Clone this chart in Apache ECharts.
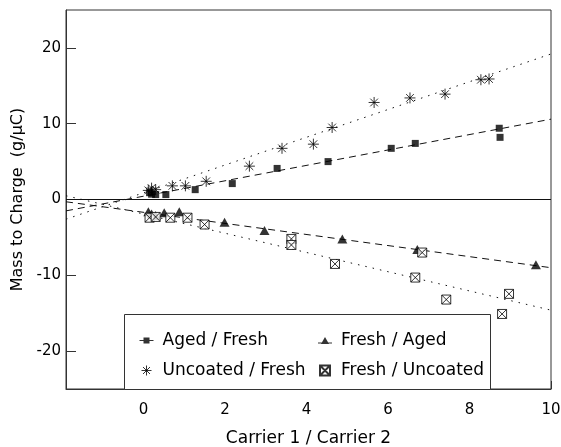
<!DOCTYPE html>
<html>
<head>
<meta charset="utf-8">
<script src="https://cdn.jsdelivr.net/npm/echarts@6/dist/echarts.min.js"></script>
<style>html,body{margin:0;padding:0;background:#fff}#c{width:561px;height:447px}</style>
</head>
<body>
<div id="c"></div>
<script>
// ---- data ----
const xTicks = [0, 2, 4, 6, 8, 10];
const yTicks = [-20, -10, 0, 10, 20];

const agedFreshX = [0.15, 0.2, 0.3, 0.55, 1.27, 2.18, 3.28, 4.53, 6.08, 6.67, 8.73, 8.75];
const agedFreshY = [0.9, 0.7, 0.65, 0.65, 1.3, 2.1, 4.1, 5.0, 6.75, 7.4, 9.4, 8.2];

const uncoatedFreshX = [0.12, 0.2, 0.3, 0.71, 1.03, 1.54, 2.6, 3.4, 4.17, 4.63, 5.66, 6.54, 7.4, 8.28, 8.48];
const uncoatedFreshY = [1.2, 1.5, 1.3, 1.8, 1.8, 2.4, 4.4, 6.75, 7.3, 9.5, 12.8, 13.4, 13.9, 15.8, 15.9];

const freshAgedX = [0.12, 0.2, 0.3, 0.51, 0.88, 1.99, 2.97, 4.88, 6.72, 9.63];
const freshAgedY = [-1.6, -1.9, -2.1, -1.75, -1.6, -3.0, -4.1, -5.2, -6.6, -8.6];

const freshUncoatedX = [0.15, 0.3, 0.66, 1.08, 1.5, 3.63, 3.63, 4.7, 6.67, 6.84, 7.43, 8.8, 8.97];
const freshUncoatedY = [-2.4, -2.3, -2.4, -2.4, -3.3, -5.2, -6.0, -8.5, -10.3, -7.0, -13.2, -15.1, -12.45];

// fit lines (endpoints read at the plot edges)
const agedFreshFit = [[-1.9, -1.5], [10, 10.6]];
const uncoatedFreshFit = [[-1.9, -2.6], [10, 19.2]];
const freshAgedFit = [[-1.9, -0.3], [10, -9.0]];
const freshUncoatedFit = [[-1.9, 0.5], [10, -14.6]];

const names = ['Aged / Fresh', 'Uncoated / Fresh', 'Fresh / Aged', 'Fresh / Uncoated'];

// ---- chart ----
const zip = (xs, ys) => xs.map((x, i) => [x, ys[i]]);
const STAR = 'path://M0,5H10M5,0V10M1.5,1.5L8.5,8.5M8.5,1.5L1.5,8.5';
const BOXX = 'path://M0,0H10V10H0ZM0,0L10,10M10,0L0,10';
const SQ_ICON = 'path://M0,4.4H14V5.6H0ZM4,2H10V8H4Z';
const TRI_ICON = 'path://M0,6.4H14V7.6H0ZM7,1L11,8H3Z';
const FONT = 'DejaVu Sans';

const fitLine = (name, data, dash) => ({
  name: name, type: 'line', data: data, showSymbol: false, silent: true,
  lineStyle: { color: '#111', width: 1, type: dash }, z: 1
});

const chart = echarts.init(document.getElementById('c'), null, { renderer: 'canvas' });
chart.setOption({
  animation: false,
  textStyle: { fontFamily: FONT, color: '#000' },
  grid: { left: 66, right: 10, top: 10, bottom: 58, show: true, borderColor: '#333', borderWidth: 1,
          containLabel: false, outerBoundsMode: 'none' },
  xAxis: {
    type: 'value', min: -1.9, max: 10,
    name: 'Carrier 1 / Carrier 2', nameLocation: 'middle', nameGap: 41,
    nameTextStyle: { fontSize: 17, color: '#000', fontFamily: FONT },
    axisLine: { onZero: false, lineStyle: { color: '#333' } },
    axisTick: { inside: true, length: 8, customValues: xTicks, lineStyle: { color: '#333' } },
    axisLabel: { customValues: xTicks, fontSize: 15, color: '#000', margin: 14, fontFamily: FONT },
    splitLine: { show: false }
  },
  yAxis: {
    type: 'value', min: -25, max: 25,
    name: 'Mass to Charge  (g/\u03bcC)', nameLocation: 'middle', nameGap: 32,
    nameTextStyle: { fontSize: 16, color: '#000', fontFamily: FONT },
    axisLine: { show: true, onZero: false, lineStyle: { color: '#333' } },
    axisTick: { show: true, inside: true, length: 10, customValues: yTicks, lineStyle: { color: '#333' } },
    axisLabel: { customValues: yTicks, fontSize: 15, color: '#000', margin: 5, fontFamily: FONT },
    splitLine: { show: false }
  },
  graphic: [{
    type: 'rect', z: 3, silent: true,
    shape: { x: 124.5, y: 314.5, width: 366, height: 75 },
    style: { fill: '#fff', stroke: '#333', lineWidth: 1 }
  }],
  legend: [{
    orient: 'vertical', left: 134, top: 327, z: 5, itemGap: 13,
    itemWidth: 14, itemHeight: 10, selectedMode: false,
    textStyle: { fontSize: 17, color: '#000', fontFamily: FONT, padding: [0, 0, 0, 4] },
    data: [
      { name: names[0], icon: SQ_ICON },
      { name: names[1], icon: STAR, itemStyle: { color: 'none', borderColor: '#000', borderWidth: 1 } }
    ]
  }, {
    orient: 'vertical', left: 313, top: 327, z: 5, itemGap: 13,
    itemWidth: 14, itemHeight: 10, selectedMode: false,
    textStyle: { fontSize: 17, color: '#000', fontFamily: FONT, padding: [0, 0, 0, 4] },
    data: [
      { name: names[2], icon: TRI_ICON },
      { name: names[3], icon: BOXX }
    ]
  }],
  series: [
    fitLine('fitAF', agedFreshFit, [7, 5]),
    fitLine('fitUF', uncoatedFreshFit, [1.5, 6]),
    fitLine('fitFA', freshAgedFit, [7, 5]),
    Object.assign(fitLine('fitFU', freshUncoatedFit, [1.5, 6]), {
      markLine: {
        silent: true, symbol: 'none', label: { show: false },
        lineStyle: { color: '#111', width: 1, type: 'solid' },
        data: [{ yAxis: 0 }]
      }
    }),
    {
      name: names[0], type: 'scatter', data: zip(agedFreshX, agedFreshY),
      symbol: 'rect', symbolSize: 7, itemStyle: { color: '#000' }, z: 4
    },
    {
      name: names[1], type: 'scatter', data: zip(uncoatedFreshX, uncoatedFreshY),
      symbol: STAR, symbolSize: 11,
      itemStyle: { color: '#000', borderColor: '#000', borderWidth: 1 }, z: 4
    },
    {
      name: names[2], type: 'scatter', data: zip(freshAgedX, freshAgedY),
      symbol: 'triangle', symbolSize: [10, 9], itemStyle: { color: '#000' }, z: 4
    },
    {
      name: names[3], type: 'scatter', data: zip(freshUncoatedX, freshUncoatedY),
      symbol: BOXX, symbolSize: 9,
      itemStyle: { color: '#fff', borderColor: '#000', borderWidth: 1 }, z: 4
    }
  ]
});
</script>
</body>
</html>
